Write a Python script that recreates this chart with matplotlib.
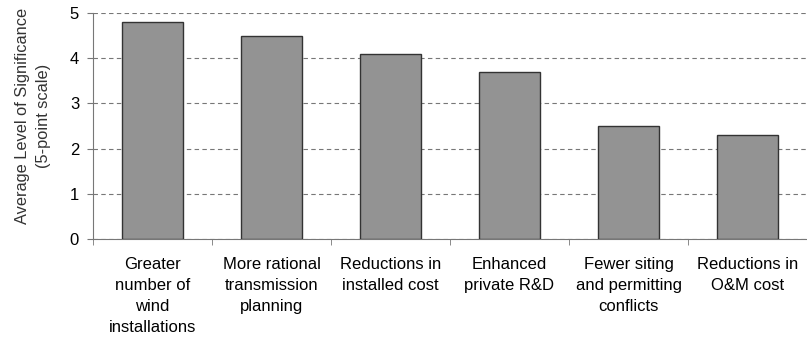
import numpy as np
import matplotlib.pyplot as plt

plt.rcParams['font.family'] = ['Liberation Sans', 'DejaVu Sans']

categories = [
    "Greater\nnumber of\nwind\ninstallations",
    "More rational\ntransmission\nplanning",
    "Reductions in\ninstalled cost",
    "Enhanced\nprivate R&D",
    "Fewer siting\nand permitting\nconflicts",
    "Reductions in\nO&M cost",
]
values = [4.8, 4.5, 4.1, 3.7, 2.5, 2.3]
yticks = [0, 1, 2, 3, 4, 5]

fig = plt.figure(figsize=(8.07, 3.43), dpi=100)
ax = fig.add_axes([93 / 807, 1 - 239 / 343, 1 - 93 / 807, (239 - 13) / 343])

x = np.arange(len(categories))
ax.bar(x, values, width=0.52, color='#939393', edgecolor='#333333',
       linewidth=1.0, zorder=3)

ax.set_xlim(-0.5, len(categories) - 0.5)
ax.set_ylim(0, 5)
ax.set_yticks(yticks)
ax.set_yticklabels([str(t) for t in yticks], fontsize=12)

# category labels sit between boundary ticks
ax.set_xticks(x)
ax.set_xticklabels(categories, fontsize=12, linespacing=1.5)
ax.tick_params(axis='x', length=0, pad=13)
ax.set_xticks(np.arange(len(categories) + 1) - 0.5, minor=True)
ax.tick_params(axis='x', which='minor', length=4, color='#777777')
ax.tick_params(axis='y', length=4, color='#777777', pad=6)

ax.yaxis.grid(True, linestyle=(0, (4, 3)), color='#777777', linewidth=0.8, zorder=0)
for s in ['top', 'right']:
    ax.spines[s].set_visible(False)
for s in ['left', 'bottom']:
    ax.spines[s].set_color('#777777')

fig.text(33 / 807, 1 - 116 / 343,
         "Average Level of Significance\n(5-point scale)",
         rotation=90, ha='center', va='center', multialignment='center',
         fontsize=11.8, color='#333333', linespacing=1.5)

fig.savefig('out.png', dpi=100)
